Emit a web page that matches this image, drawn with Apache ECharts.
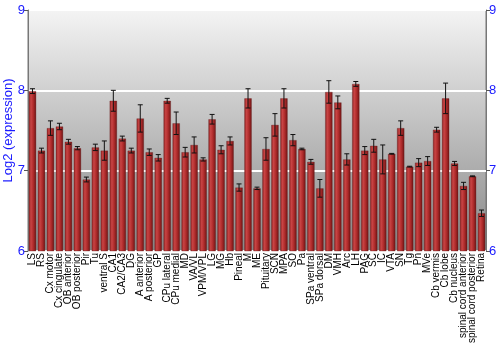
<!DOCTYPE html>
<html>
<head>
<meta charset="utf-8">
<script src="https://cdn.jsdelivr.net/npm/echarts@6/dist/echarts.min.js"></script>
<style>
  html, body { margin: 0; padding: 0; background: #fff; }
  #chart { width: 500px; height: 350px; }
</style>
</head>
<body>
<div id="chart"></div>
<script>
// 脑区名称
var regions = ['LS', 'RS', 'Cx motor', 'Cx cingulate', 'OB anterior', 'OB posterior', 'Pir', 'Tu',
    'ventral S', 'CA1', 'CA2/CA3', 'DG', 'A anterior', 'A posterior', 'GP', 'CPu lateral', 'CPu medial',
    'MD', 'VA/VL', 'VPM/VPL', 'LG', 'MG', 'Hb', 'Pineal', 'M', 'ME', 'Pituitary', 'SCN', 'MPA', 'SO',
    'Pa', 'SPa ventral', 'SPa dorsal', 'DM', 'VMH', 'Arc', 'LH', 'PAG', 'SC', 'IC', 'VTA', 'SN', 'Tg',
    'Pn', 'MVe', 'Cb vermis', 'Cb lobe', 'Cb nucleus', 'spinal cord anterior', 'spinal cord posterior',
    'Retina'];

// 平均表达量 (log2)
var meanValues = [7.99, 7.25, 7.53, 7.55, 7.36, 7.28, 6.89, 7.29,
    7.25, 7.87, 7.40, 7.25, 7.65, 7.23, 7.16, 7.87, 7.59,
    7.23, 7.32, 7.14, 7.64, 7.26, 7.37, 6.79, 7.90, 6.78, 7.27, 7.57, 7.90, 7.38,
    7.27, 7.11, 6.78, 7.98, 7.85, 7.14, 8.08, 7.25, 7.31, 7.14, 7.21, 7.53, 7.05,
    7.10, 7.12, 7.51, 7.90, 7.09, 6.81, 6.93,
    6.47];

// 误差 (±)
var errValues = [0.03, 0.03, 0.09, 0.04, 0.03, 0.02, 0.03, 0.04,
    0.12, 0.13, 0.03, 0.03, 0.17, 0.04, 0.04, 0.03, 0.14,
    0.06, 0.10, 0.02, 0.06, 0.05, 0.05, 0.045, 0.12, 0.015, 0.14, 0.14, 0.12, 0.07,
    0.01, 0.03, 0.11, 0.14, 0.08, 0.07, 0.03, 0.05, 0.08, 0.18, 0.005, 0.09, 0.005,
    0.05, 0.055, 0.03, 0.19, 0.025, 0.045, 0.005,
    0.04];

var yTicks = [6, 7, 8, 9];

var chart = echarts.init(document.getElementById('chart'));

var errData = meanValues.map(function (v, i) {
    return [i, v - errValues[i], v + errValues[i]];
});

var yAxisBase = {
    type: 'value',
    min: yTicks[0],
    max: yTicks[yTicks.length - 1],
    interval: 1,
    axisLine: { show: true, lineStyle: { color: '#777' } },
    axisTick: { show: true, length: 4, lineStyle: { color: '#555' } },
    axisLabel: { color: '#1a1aff', fontSize: 13, fontFamily: 'Liberation Sans', margin: 3 },
    splitLine: { show: false }
};

var option = {
    animation: false,
    backgroundColor: '#fff',
    grid: {
        left: 28, right: 14, top: 10, bottom: 99,
        outerBoundsMode: 'none',
        containLabel: false,
        show: true,
        borderColor: '#777',
        borderWidth: 1,
        backgroundColor: new echarts.graphic.LinearGradient(0, 0, 0, 1, [
            { offset: 0, color: '#f4f4f4' },
            { offset: 1, color: '#888888' }
        ])
    },
    xAxis: {
        type: 'category',
        data: regions,
        axisLine: { show: false },
        axisTick: { show: false },
        axisLabel: {
            interval: 0, rotate: 90, fontSize: 10, color: '#000',
            fontFamily: 'Liberation Sans', margin: 2
        }
    },
    yAxis: [
        Object.assign({}, yAxisBase, {
            position: 'left',
            name: 'Log2 (expression)',
            nameLocation: 'middle',
            nameGap: 13,
            nameMoveOverlap: false,
            nameTextStyle: { color: '#1a1aff', fontSize: 13, fontFamily: 'Liberation Sans' },
            splitLine: { show: true, lineStyle: { color: '#fff', width: 2 } }
        }),
        Object.assign({}, yAxisBase, { position: 'right' })
    ],
    series: [{
        type: 'bar',
        data: meanValues,
        barWidth: '82%',
        itemStyle: {
            borderColor: 'rgba(90,20,20,0.6)',
            borderWidth: 0.5,
            color: new echarts.graphic.LinearGradient(0, 0, 1, 0, [
                { offset: 0, color: '#8e2222' },
                { offset: 0.3, color: '#c84444' },
                { offset: 0.6, color: '#b02c2c' },
                { offset: 1, color: '#6e1414' }
            ])
        }
    }, {
        type: 'custom',
        data: errData,
        z: 10,
        renderItem: function (params, api) {
            var x = api.value(0);
            var lo = api.coord([x, api.value(1)]);
            var hi = api.coord([x, api.value(2)]);
            var cap = 2.5;
            var st = { stroke: '#111', lineWidth: 1 };
            return {
                type: 'group',
                children: [
                    { type: 'line', shape: { x1: lo[0], y1: lo[1], x2: hi[0], y2: hi[1] }, style: st },
                    { type: 'line', shape: { x1: lo[0] - cap, y1: lo[1], x2: lo[0] + cap, y2: lo[1] }, style: st },
                    { type: 'line', shape: { x1: hi[0] - cap, y1: hi[1], x2: hi[0] + cap, y2: hi[1] }, style: st }
                ]
            };
        }
    }]
};

chart.setOption(option);
</script>
</body>
</html>
